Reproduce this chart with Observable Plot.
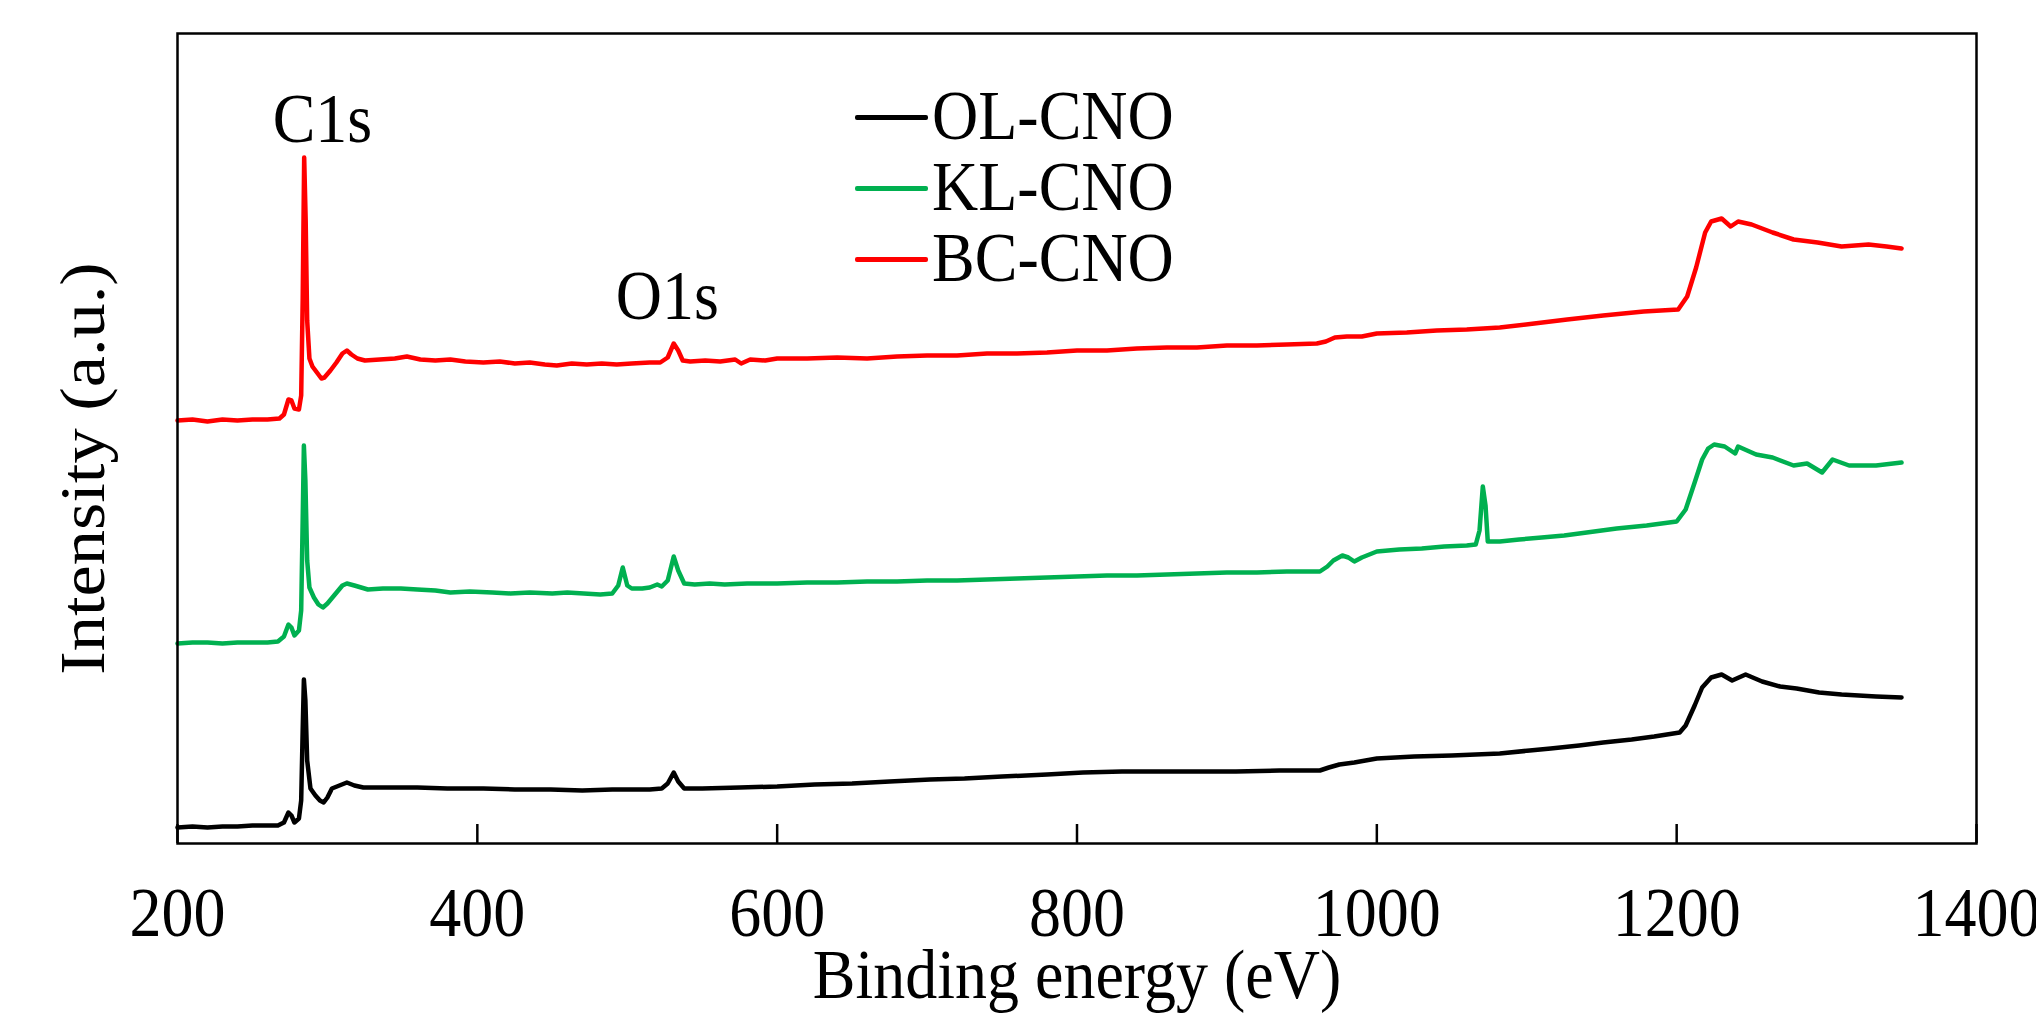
<!DOCTYPE html>
<html>
<head>
<meta charset="utf-8">
<script src="https://cdn.jsdelivr.net/npm/d3@7"></script>
<script src="https://cdn.jsdelivr.net/npm/@observablehq/plot@0.6"></script>
<style>
  body { margin: 0; background: #fff; }
  #wrap { position: relative; width: 2036px; height: 1024px; font-family: "Liberation Serif", "Times New Roman", serif; color: #000; }
  #legend { position: absolute; left: 855px; top: 80px; }
  .row { position: relative; height: 71px; }
  .sw { position: absolute; left: 0; top: 35px; width: 73px; height: 4.5px; border-radius: 2px; }
  .lab { position: absolute; left: 77px; top: 0; font-size: 64px; line-height: 71px; white-space: nowrap; transform: scaleY(1.1); transform-origin: 0 37px; }
</style>
</head>
<body>
<div id="wrap"><div id="legend"></div></div>
<script>
const seriesNames = ["OL-CNO", "KL-CNO", "BC-CNO"];
const seriesColors = ["#000000", "#00b050", "#ff0000"];
const xTicks = [200, 400, 600, 800, 1000, 1200, 1400];

// OL-CNO (black)
const olEnergy = [200,210,220,230,240,250,260,267,271,274,276,278,281,282.5,283.5,284.3,285.3,286.5,288.7,292,295,297.5,300,303,308,313,318,324,340,360,380,404,425,449,470,490,505,515,523,527,531,534,538,550,575,600,625,650,675,702,725,750,780,804,830,855,880,906,935,962,968,975,985,1000,1025,1050,1082,1102,1116,1135,1151,1170,1185,1202,1206,1212,1217,1223,1230,1237,1246,1257,1269,1280,1295,1310,1333,1350];
const olIntensity = [16,17,16,17,17,18,18,18,21,31,28,21,25,43,113,164,143,83,55,48,43,41,46,55,58,61,58,56,56,56,55,55,54,54,53,54,54,54,55,60,71,62,55,55,56,57,59,60,62,64,65,67,69,71,72,72,72,72,73,73,76,79,81,85,87,88,90,93,95,98,101,104,107,111,118,138,156,166,169,163,169,162,157,155,151,149,147,146];

// KL-CNO (green)
const klEnergy = [200,210,220,230,240,250,260,267,271,274,276,278,281,282.5,283.5,284.3,285.3,286.5,288,291,294,297,300,305,310,313,318,327,337,349,360,372,382,395,410,422,435,450,460,471,482,490,494,497,500,503,510,515,520,523,527,531,534,538,545,555,565,580,600,620,640,660,680,700,720,740,760,780,800,820,840,860,880,900,920,940,962,967,971,977,981,985,990,1000,1015,1030,1045,1060,1066,1068.5,1070.7,1072.5,1074,1082,1095,1110,1125,1140,1160,1180,1200,1206,1212,1217,1221,1225,1232,1239,1241,1253,1264,1278,1287,1297,1304,1315,1333,1350];
const klIntensity = [200,201,201,200,201,201,201,202,207,219,216,208,213,233,323,398,363,283,256,246,239,236,240,249,258,260,258,254,255,255,254,253,251,252,251,250,251,250,251,250,249,250,258,276,258,255,255,256,259,257,263,287,273,260,259,260,259,260,260,261,261,262,262,263,263,264,265,266,267,268,268,269,270,271,271,272,272,277,283,288,286,282,286,292,294,295,297,298,299,313,357,338,302,302,304,306,308,311,315,318,322,334,361,384,395,399,397,390,397,389,386,378,380,371,384,378,378,381];

// BC-CNO (red)
const bcEnergy = [200,210,220,230,240,250,260,268,271,274,276,278,281,282.5,283.5,284.5,285.5,286.5,288,290,293,296,298,302,306,310,313,316,320,325,335,345,353,362,372,382,392,404,415,425,435,445,453,463,473,483,493,503,515,522,527,531,534,537,542,552,562,572,576,582,592,600,620,640,660,680,700,720,740,760,780,800,820,840,860,880,900,920,940,960,966,972,980,990,1000,1020,1040,1060,1082,1105,1127,1151,1178,1201,1207,1213,1219,1223,1230,1236,1241,1250,1264,1278,1294,1310,1328,1340,1350];
const bcIntensity = [423,424,422,424,423,424,424,425,429,444,443,435,434,448,543,686,623,523,485,477,471,465,466,473,481,490,493,489,485,483,484,485,487,484,483,484,482,481,482,480,481,479,478,480,479,480,479,480,481,481,486,500,493,483,482,483,482,484,480,484,483,485,485,486,485,487,488,488,490,490,491,493,493,495,496,496,498,498,499,500,502,506,507,507,510,511,513,514,516,520,524,528,532,534,547,576,611,622,625,617,622,619,611,604,601,597,599,597,595];

// peak annotations
const peakLabels = ["C1s", "O1s"];
const peakLabelEnergy = [296.7, 526.7];
const peakLabelIntensity = [702, 525];

const energies = [olEnergy, klEnergy, bcEnergy];
const intensities = [olIntensity, klIntensity, bcIntensity];
const data = [];
seriesNames.forEach((name, s) => {
  energies[s].forEach((e, i) => data.push({series: name, energy: e, intensity: intensities[s][i]}));
});
const labels = peakLabels.map((t, i) => ({text: t, energy: peakLabelEnergy[i], intensity: peakLabelIntensity[i]}));

const chart = Plot.plot({
  width: 2036,
  height: 1024,
  marginLeft: 177,
  marginRight: 60,
  marginTop: 33,
  marginBottom: 181,
  style: {fontFamily: "'Liberation Serif', 'Times New Roman', serif", background: "white", color: "black", overflow: "visible"},
  x: {domain: [200, 1400]},
  y: {domain: [0, 810], axis: null},
  color: {domain: seriesNames, range: seriesColors},
  marks: [
    Plot.line(data, {x: "energy", y: "intensity", z: "series", stroke: "series", strokeWidth: 4.5, curve: "linear"}),
    Plot.frame({stroke: "black", strokeWidth: 2.5}),
    Plot.axisX({ticks: xTicks, tickSize: -19, strokeWidth: 2.5, tickFormat: () => "", label: null}),
    Plot.axisX({ticks: xTicks, tickSize: 0, tickPadding: 43, fontSize: 64, tickFormat: d => String(d), label: null}),
    Plot.text(labels, {x: "energy", y: "intensity", text: "text", fontSize: 64, lineAnchor: "bottom", fill: "black"}),
    Plot.text(["Binding energy (eV)"], {frameAnchor: "bottom", dy: 154, lineAnchor: "bottom", textAnchor: "middle", fontSize: 64, fill: "black"}),
    Plot.text(["Intensity (a.u.)"], {frameAnchor: "left", rotate: -90, dx: -74, dy: 30, lineAnchor: "bottom", textAnchor: "middle", fontSize: 64, fill: "black"})
  ]
});

// the reference figure's lettering is slightly stretched vertically:
// scale each text about its own anchor point, keeping its position
chart.querySelectorAll("text").forEach(t => {
  const xs = t.getAttribute("x"), ys = t.getAttribute("y");
  const x = xs == null ? 0 : parseFloat(xs);
  const y = ys == null ? 0 : parseFloat(ys);
  if (!isFinite(x) || !isFinite(y)) return;
  const tr = t.getAttribute("transform") || "";
  const rotated = /rotate/.test(tr);
  const s = rotated ? "scale(1.1,1)" : "scale(1,1.1)";
  t.setAttribute("transform", `${tr} translate(${x},${y}) ${s} translate(${-x},${-y})`.trim());
});

document.getElementById("wrap").prepend(chart);

const legend = document.getElementById("legend");
seriesNames.forEach((name, i) => {
  const row = document.createElement("div");
  row.className = "row";
  const sw = document.createElement("div");
  sw.className = "sw";
  sw.style.background = seriesColors[i];
  const lab = document.createElement("div");
  lab.className = "lab";
  lab.textContent = name;
  row.appendChild(sw);
  row.appendChild(lab);
  legend.appendChild(row);
});
</script>
</body>
</html>
